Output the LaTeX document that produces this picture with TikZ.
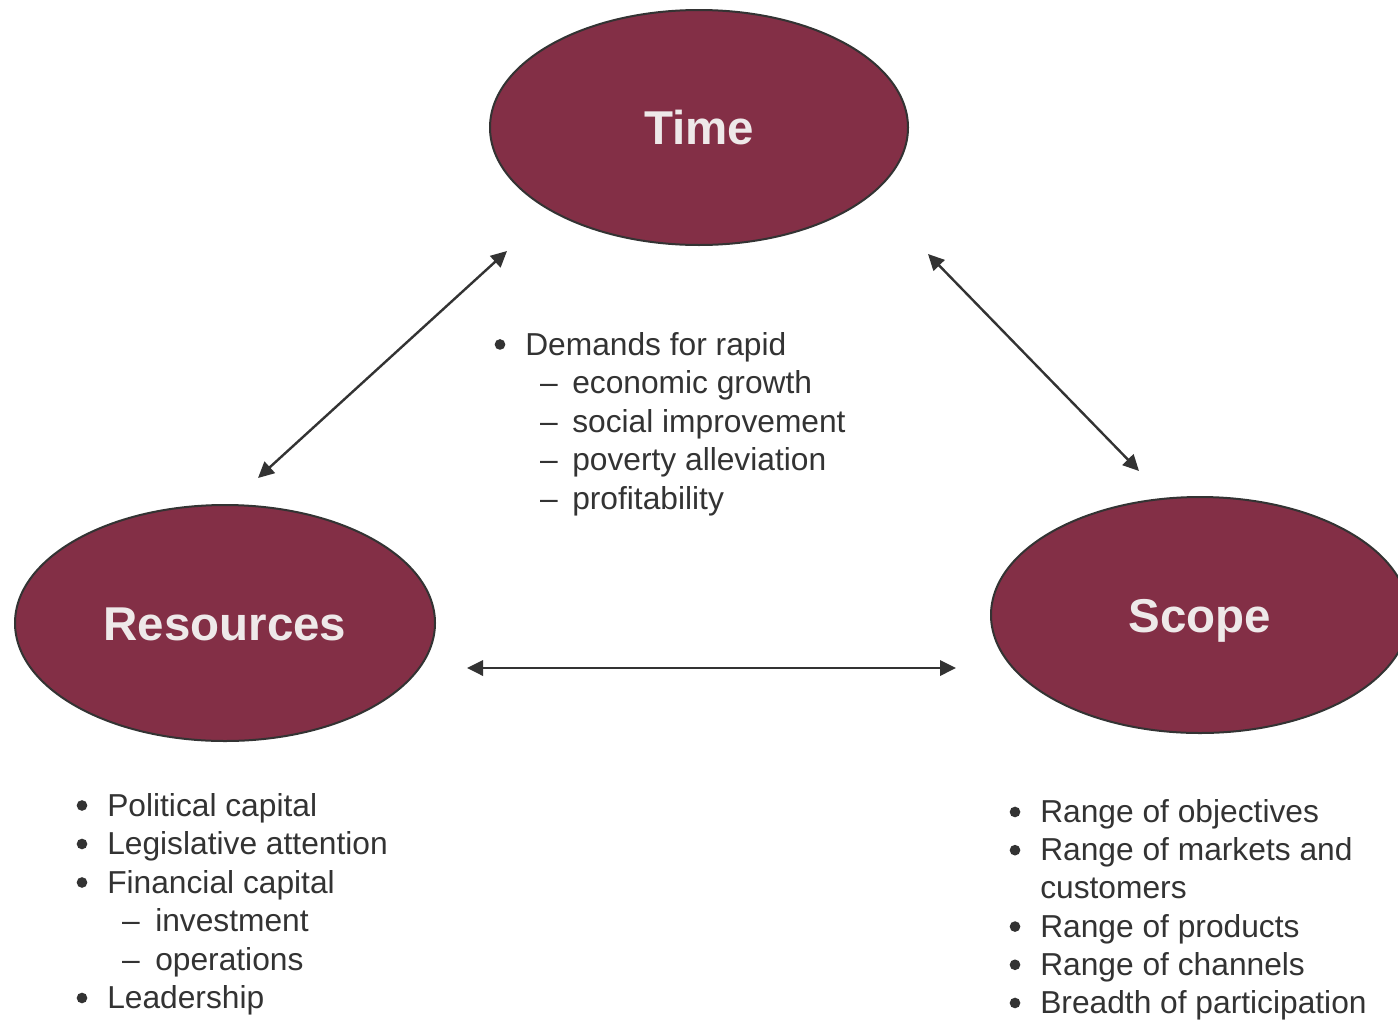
\documentclass[tikz,border=0pt]{standalone}
\usepackage{fontspec}
\setmainfont{Liberation Sans}
\usetikzlibrary{arrows.meta,shapes.geometric}
\definecolor{maroon}{HTML}{832F46}
\definecolor{titletext}{HTML}{EEE9E9}
\definecolor{darkline}{HTML}{333333}
\definecolor{bodytext}{HTML}{333333}
\tikzset{
  bubble/.style={ellipse, draw=darkline, line width=1.5pt, fill=maroon, inner sep=0pt,
    text=titletext, font=\fontsize{35.6}{40}\selectfont\bfseries,
    text height=25.5pt, text depth=0pt},
  link/.style={{Triangle[length=12pt,width=11.5pt]}-{Triangle[length=12pt,width=11.5pt]},
    draw=darkline, line width=1.8pt},
  itemtext/.style={anchor=base west, inner sep=0pt, text=bodytext,
    font=\fontsize{23.8}{28}\selectfont},
  dashmark/.style={anchor=base, inner sep=0pt, text=bodytext,
    font=\fontsize{23.8}{28}\selectfont},
  bulletdot/.style={circle, fill=bodytext, inner sep=0pt, minimum size=8pt, yshift=7.9pt},
}
\begin{document}
\begin{tikzpicture}[x=0.75pt,y=-0.75pt]
\clip (0,0) rectangle (1398,1021);
\fill[white] (0,0) rectangle (1398,1021);

% ellipses
\node[bubble, minimum width=313.5pt, minimum height=176.25pt] (time) at (699,127.5) {Time};
\node[bubble, minimum width=315pt, minimum height=177pt] (res) at (225,623) {Resources};
\node[bubble, minimum width=313.5pt, minimum height=177pt] (scope) at (1200,615) {Scope};

% connector ends
\coordinate (a1) at (507,251);
\coordinate (a2) at (258,478);
\coordinate (b1) at (928,254);
\coordinate (b2) at (1139,471);
\coordinate (c1) at (467,668);
\coordinate (c2) at (956,668);
\draw[link] (a1) -- (a2);
\draw[link] (b1) -- (b2);
\draw[link] (c1) -- (c2);

% Time list
\node[bulletdot] (tb1) at (500,355) {};
\node[itemtext] (t1) at (525,355) {Demands for rapid};
\node[dashmark] (td1) at (549,393.5) {–};
\node[itemtext] (t2) at (572,393.5) {economic growth};
\node[dashmark] (td2) at (549,432) {–};
\node[itemtext] (t3) at (572,432) {social improvement};
\node[dashmark] (td3) at (549,470.5) {–};
\node[itemtext] (t4) at (572,470.5) {poverty alleviation};
\node[dashmark] (td4) at (549,509) {–};
\node[itemtext] (t5) at (572,509) {profitability};

% Resources list
\node[bulletdot] (rb1) at (82,816) {};
\node[itemtext] (r1) at (107,816) {Political capital};
\node[bulletdot] (rb2) at (82,854.5) {};
\node[itemtext] (r2) at (107,854.5) {Legislative attention};
\node[bulletdot] (rb3) at (82,893) {};
\node[itemtext] (r3) at (107,893) {Financial capital};
\node[dashmark] (rd1) at (131,931.5) {–};
\node[itemtext] (r4) at (155,931.5) {investment};
\node[dashmark] (rd2) at (131,970) {–};
\node[itemtext] (r5) at (155,970) {operations};
\node[bulletdot] (rb4) at (82,1008.5) {};
\node[itemtext] (r6) at (107,1008.5) {Leadership};

% Scope list
\node[bulletdot] (sb1) at (1015,822.5) {};
\node[itemtext] (s1) at (1040,822.5) {Range of objectives};
\node[bulletdot] (sb2) at (1015,860.7) {};
\node[itemtext] (s2) at (1040,860.7) {Range of markets and};
\node[itemtext] (s3) at (1040,898.9) {customers};
\node[bulletdot] (sb3) at (1015,937.1) {};
\node[itemtext] (s4) at (1040,937.1) {Range of products};
\node[bulletdot] (sb4) at (1015,975.3) {};
\node[itemtext] (s5) at (1040,975.3) {Range of channels};
\node[bulletdot] (sb5) at (1015,1013.5) {};
\node[itemtext] (s6) at (1040,1013.5) {Breadth of participation};
\end{tikzpicture}
\end{document}
